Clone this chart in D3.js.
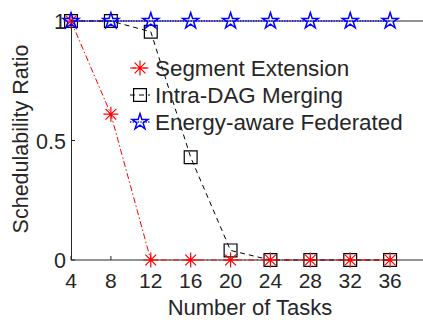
<!DOCTYPE html>
<html>
<head>
<meta charset="utf-8">
<script src="https://cdn.jsdelivr.net/npm/d3@7"></script>
<style>
  body { margin: 0; background: #fff; }
  text { font-family: "Liberation Sans", Arial, sans-serif; fill: #262626; }
</style>
</head>
<body>
<script>
'use strict';

// chart data
const tasks = [4, 8, 12, 16, 20, 24, 28, 32, 36];
const segmentExtension = [1, 0.61, 0, 0, 0, 0, 0, 0, 0];
const intraDagMerging = [1, 1, 0.955, 0.43, 0.04, 0, 0, 0, 0];
const energyFederated = [1, 1, 1, 1, 1, 1, 1, 1, 1];
const seriesNames = ['Segment Extension', 'Intra-DAG Merging', 'Energy-aware Federated'];
const xTicks = [4, 8, 12, 16, 20, 24, 28, 32, 36];
const yTicks = [0, 0.5, 1];
const yTickLabels = ['0', '0.5', '1'];

const width = 423, height = 320;

const svg = d3.select('body').append('svg')
  .attr('width', width)
  .attr('height', height);

const xScale = d3.scaleLinear().domain([4, 40]).range([71, 430]);
const yScale = d3.scaleLinear().domain([0, 1]).range([260, 21]);

// asterisk marker (+ and x)
function asteriskPath(r) {
  const d = r * 0.72;
  return `M${-r},0L${r},0M0,${-r}L0,${r}M${-d},${-d}L${d},${d}M${-d},${d}L${d},${-d}`;
}
const starPath = d3.symbol().type(d3.symbolStar).size(80)();
const squarePath = d3.symbol().type(d3.symbolSquare).size(165)();

const series = [
  { name: seriesNames[1], values: intraDagMerging, color: '#000000', dash: '5,4', width: 1,
    marker: squarePath, mWidth: 1.2 },
  { name: seriesNames[0], values: segmentExtension, color: '#ff0000', dash: '6,2.5,1.5,2.5', width: 1,
    marker: asteriskPath(7.5), mWidth: 1.2 },
  { name: seriesNames[2], values: energyFederated, color: '#0000ff', dash: '1.3,1.3', width: 1.5,
    marker: starPath, mWidth: 1.5 }
];

// box lines and axes
svg.append('line')
  .attr('x1', xScale(4)).attr('x2', width)
  .attr('y1', yScale(1)).attr('y2', yScale(1))
  .attr('stroke', '#262626').attr('stroke-width', 1);

svg.append('line')
  .attr('x1', xScale(4)).attr('x2', width)
  .attr('y1', yScale(0)).attr('y2', yScale(0))
  .attr('stroke', '#262626').attr('stroke-width', 1);

svg.append('line')
  .attr('x1', xScale(4) + 0.5).attr('x2', xScale(4) + 0.5)
  .attr('y1', yScale(1)).attr('y2', yScale(0))
  .attr('stroke', '#262626').attr('stroke-width', 1);

// ticks (inward)
svg.selectAll('.xtick')
  .data(xTicks)
  .enter().append('line')
  .attr('x1', d => xScale(d)).attr('x2', d => xScale(d))
  .attr('y1', yScale(0)).attr('y2', yScale(0) - 4)
  .attr('stroke', '#262626');

svg.selectAll('.ytick')
  .data(yTicks)
  .enter().append('line')
  .attr('x1', xScale(4)).attr('x2', xScale(4) + 4)
  .attr('y1', d => yScale(d)).attr('y2', d => yScale(d))
  .attr('stroke', '#262626');

svg.selectAll('.xlabel')
  .data(xTicks)
  .enter().append('text')
  .attr('x', d => xScale(d))
  .attr('y', yScale(0) + 28)
  .attr('text-anchor', 'middle')
  .style('font-size', '21px')
  .text(d => d);

svg.selectAll('.ylabel')
  .data(yTicks)
  .enter().append('text')
  .attr('x', xScale(4) - 5)
  .attr('y', d => yScale(d) + 8)
  .attr('text-anchor', 'end')
  .style('font-size', '21.5px')
  .text((d, i) => yTickLabels[i]);

// axis titles
svg.append('text')
  .attr('x', 250)
  .attr('y', 315)
  .attr('text-anchor', 'middle')
  .style('font-size', '22px')
  .text('Number of Tasks');

svg.append('text')
  .attr('transform', 'translate(28, 139)rotate(-90)')
  .attr('text-anchor', 'middle')
  .style('font-size', '21.5px')
  .text('Schedulability Ratio');

// lines and markers
const line = d3.line()
  .x((d, i) => xScale(tasks[i]))
  .y(d => yScale(d));

series.forEach(s => {
  svg.append('path')
    .attr('d', line(s.values))
    .attr('fill', 'none')
    .attr('stroke', s.color)
    .attr('stroke-width', s.width)
    .attr('stroke-dasharray', s.dash);

  svg.selectAll(null)
    .data(s.values)
    .enter().append('path')
    .attr('d', s.marker)
    .attr('transform', (d, i) => `translate(${xScale(tasks[i])},${yScale(d)})`)
    .attr('fill', 'none')
    .attr('stroke', s.color)
    .attr('stroke-width', s.mWidth);
});

// legend
const legendOrder = [series[1], series[0], series[2]];
const legend = svg.selectAll('.legend')
  .data(legendOrder)
  .enter().append('g')
  .attr('transform', (d, i) => `translate(140, ${68 + i * 27})`);

legend.append('line')
  .attr('x1', -10).attr('x2', 10)
  .attr('stroke', d => d.color)
  .attr('stroke-width', d => d.width)
  .attr('stroke-dasharray', d => d.dash);

legend.append('path')
  .attr('d', d => d.marker)
  .attr('fill', 'none')
  .attr('stroke', d => d.color)
  .attr('stroke-width', d => d.mWidth);

legend.append('text')
  .attr('x', 15)
  .attr('y', 8)
  .style('font-size', '22.4px')
  .text(d => d.name);
</script>
</body>
</html>
